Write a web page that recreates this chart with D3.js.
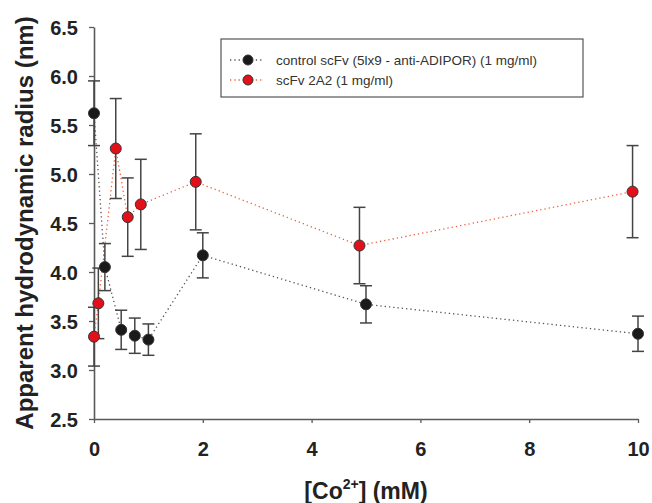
<!DOCTYPE html>
<html>
<head>
<meta charset="utf-8">
<script src="https://cdn.jsdelivr.net/npm/d3@7"></script>
<style>
  html, body { margin: 0; padding: 0; background: #fff; }
  svg { display: block; font-family: "Liberation Sans", Arial, sans-serif; }
</style>
</head>
<body>
<svg id="chart" width="652" height="503"></svg>
<script>
// ---- data ----
const controlX = [0, 0.2, 0.5, 0.75, 1, 2, 5, 10];
const controlY = [5.62, 4.05, 3.41, 3.35, 3.31, 4.17, 3.67, 3.37];
const controlErr = [0.33, 0.24, 0.2, 0.18, 0.16, 0.23, 0.19, 0.18];

const a2X = [0, 0.08, 0.4, 0.62, 0.86, 1.87, 4.88, 9.9];
const a2Y = [3.34, 3.68, 5.26, 4.56, 4.69, 4.92, 4.27, 4.82];
const a2Err = [0.30, 0.36, 0.51, 0.40, 0.46, 0.49, 0.39, 0.47];

const xTicks = [0, 2, 4, 6, 8, 10];
const yTicks = [2.5, 3.0, 3.5, 4.0, 4.5, 5.0, 5.5, 6.0, 6.5];
const seriesNames = ["control scFv (5lx9 - anti-ADIPOR) (1 mg/ml)", "scFv 2A2 (1 mg/ml)"];

// ---- layout ----
const svg = d3.select("#chart");
const x = d3.scaleLinear().domain([0, 10]).range([94, 638]);
const y = d3.scaleLinear().domain([2.5, 6.5]).range([419, 27]);
const axisColor = "#5a5a5a";

// axes
const xAxis = svg.append("g").attr("transform", `translate(0,${y(2.5)})`)
  .call(d3.axisBottom(x).tickValues(xTicks).tickSize(4).tickSizeOuter(0).tickFormat(d3.format("d")));
const yAxis = svg.append("g").attr("transform", `translate(${x(0)},0)`)
  .call(d3.axisLeft(y).tickValues(yTicks).tickSize(5).tickSizeOuter(0).tickFormat(d3.format(".1f")));
[xAxis, yAxis].forEach(g => {
  g.select(".domain").attr("stroke", axisColor).attr("stroke-width", 1.6);
  g.selectAll(".tick line").attr("stroke", axisColor).attr("stroke-width", 1.3);
  g.selectAll(".tick text").attr("fill", "#222").attr("font-size", 20).attr("font-weight", "bold")
    .attr("font-family", "'Liberation Sans', Arial, sans-serif");
});
xAxis.selectAll(".tick text").attr("dy", 0).attr("y", 37);
yAxis.selectAll(".tick text").attr("x", -16).attr("dy", "0.36em");

// axis titles
svg.append("text")
  .attr("transform", `translate(33,223) rotate(-90)`)
  .attr("text-anchor", "middle")
  .attr("font-size", 24).attr("font-weight", "bold").attr("fill", "#222")
  .text("Apparent hydrodynamic radius (nm)");

const xt = svg.append("text")
  .attr("x", 366).attr("y", 499)
  .attr("text-anchor", "middle")
  .attr("font-size", 23).attr("font-weight", "bold").attr("fill", "#222");
xt.append("tspan").text("[Co");
xt.append("tspan").attr("font-size", 14).attr("dy", -10).text("2+");
xt.append("tspan").attr("dy", 10).text("] (mM)");

// series
const series = [
  { xs: controlX, ys: controlY, es: controlErr, fill: "#1a1a1a", line: "#555555" },
  { xs: a2X, ys: a2Y, es: a2Err, fill: "#e3101a", line: "#f0603c" }
];

const line = d3.line().x(d => x(d[0])).y(d => y(d[1]));

series.forEach(s => {
  const pts = s.xs.map((v, i) => [v, s.ys[i]]);
  svg.append("path").datum(pts)
    .attr("d", line).attr("fill", "none")
    .attr("stroke", s.line).attr("stroke-width", 1.3)
    .attr("stroke-dasharray", "1.3,3");
});

series.forEach(s => {
  const g = svg.append("g").attr("stroke", "#444").attr("stroke-width", 1.5);
  s.xs.forEach((v, i) => {
    const cx = x(v), lo = y(s.ys[i] - s.es[i]), hi = y(s.ys[i] + s.es[i]);
    g.append("line").attr("x1", cx).attr("x2", cx).attr("y1", lo).attr("y2", hi);
    g.append("line").attr("x1", cx - 6).attr("x2", cx + 6).attr("y1", lo).attr("y2", lo);
    g.append("line").attr("x1", cx - 6).attr("x2", cx + 6).attr("y1", hi).attr("y2", hi);
  });
});

series.forEach(s => {
  svg.append("g").selectAll("circle")
    .data(s.xs.map((v, i) => [v, s.ys[i]]))
    .join("circle")
    .attr("cx", d => x(d[0])).attr("cy", d => y(d[1]))
    .attr("r", 5.5)
    .attr("fill", s.fill).attr("stroke", "#333").attr("stroke-width", 1);
});

// legend
const lg = svg.append("g");
lg.append("rect").attr("x", 221).attr("y", 39).attr("width", 362).attr("height", 58)
  .attr("fill", "#fff").attr("stroke", "#555").attr("stroke-width", 1.2);
series.forEach((s, i) => {
  const ly = 60 + i * 20;
  lg.append("line").attr("x1", 230).attr("x2", 263).attr("y1", ly).attr("y2", ly)
    .attr("stroke", s.line).attr("stroke-width", 1.3).attr("stroke-dasharray", "1.3,3");
  lg.append("circle").attr("cx", 248).attr("cy", ly).attr("r", 5)
    .attr("fill", s.fill).attr("stroke", "#333").attr("stroke-width", 1);
  lg.append("text").attr("x", 276).attr("y", ly).attr("dy", "0.35em")
    .attr("font-size", 13.5).attr("fill", "#333").text(seriesNames[i]);
});
</script>
</body>
</html>
